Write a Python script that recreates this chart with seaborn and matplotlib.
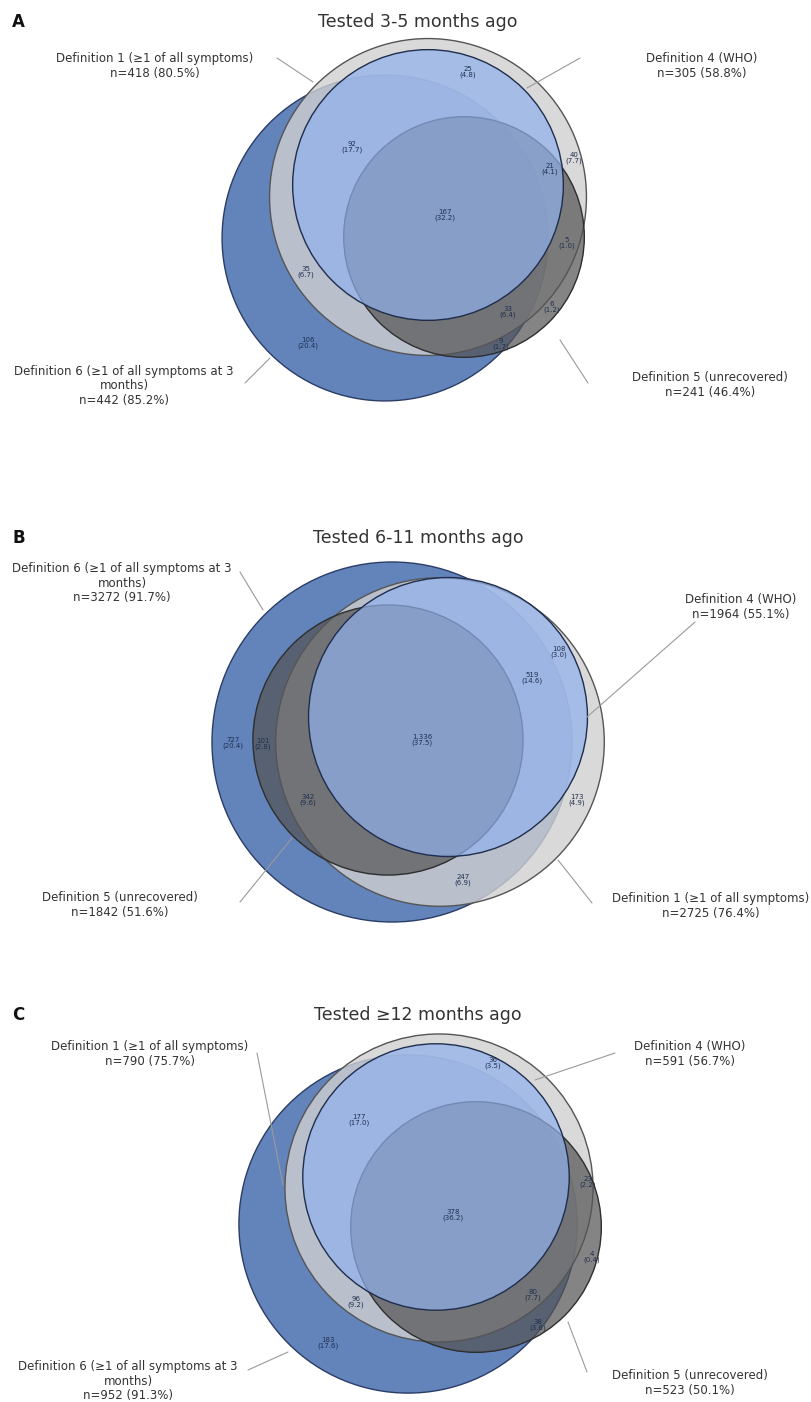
import matplotlib
matplotlib.use("Agg")
import matplotlib.pyplot as plt
import matplotlib.colors as mcolors
from matplotlib.patches import Circle
import seaborn as sns

# ---- data -------------------------------------------------------------
panel_letters = ["A", "B", "C"]
panel_titles = ["Tested 3-5 months ago", "Tested 6-11 months ago", "Tested \u226512 months ago"]
definitions = ["Definition 1 (\u22651 of all symptoms)", "Definition 4 (WHO)",
               "Definition 5 (unrecovered)", "Definition 6 (\u22651 of all symptoms at 3\nmonths)"]

n_a = [418, 305, 241, 442]
pct_a = [80.5, 58.8, 46.4, 85.2]
n_b = [2725, 1964, 1842, 3272]
pct_b = [76.4, 55.1, 51.6, 91.7]
n_c = [790, 591, 523, 952]
pct_c = [75.7, 56.7, 50.1, 91.3]

region_n_a = [25, 92, 40, 21, 167, 5, 35, 33, 6, 106, 9]
region_pct_a = [4.8, 17.7, 7.7, 4.1, 32.2, 1.0, 6.7, 6.4, 1.2, 20.4, 1.7]
region_n_b = [108, 519, 727, 101, 1336, 342, 173, 247]
region_pct_b = [3.0, 14.6, 20.4, 2.8, 37.5, 9.6, 4.9, 6.9]
region_n_c = [36, 177, 23, 378, 4, 96, 80, 38, 183]
region_pct_c = [3.5, 17.0, 2.2, 36.2, 0.4, 9.2, 7.7, 3.6, 17.6]

# ---- layout (pixel space of the figure) -------------------------------
# circle centres per definition (Def1, Def4, Def5, Def6), px per sqrt(n)
layout = [
    dict(centres=[(428, 197), (428, 185), (464, 237), (385, 238)], scale=7.75,
         title_y=22,
         labels=[(155, 66), (702, 66), (710, 385), (124, 386)],
         leaders=[((277, 58), (313, 82)), ((580, 58), (527, 88)),
                  ((560, 340), (588, 383)), ((245, 383), (270, 358))],
         regions=[(468, 72), (352, 147), (574, 158), (550, 169), (445, 215), (567, 243),
                  (306, 272), (508, 312), (552, 307), (308, 343), (501, 344)]),
    dict(centres=[(440, 742), (448, 717), (388, 740), (392, 742)], scale=3.147,
         title_y=538,
         labels=[(711, 906), (741, 607), (120, 905), (122, 583)],
         leaders=[((558, 860), (592, 903)), ((695, 622), (587, 717)),
                  ((292, 838), (240, 902)), ((240, 572), (263, 610))],
         regions=[(559, 652), (532, 678), (233, 743), (263, 744), (422, 740),
                  (308, 800), (577, 800), (463, 880)]),
    dict(centres=[(439, 1188), (436, 1177), (476, 1227), (408, 1224)], scale=5.48,
         title_y=1015,
         labels=[(150, 1054), (690, 1054), (690, 1383), (128, 1381)],
         leaders=[((257, 1053), (283, 1185)), ((615, 1053), (535, 1080)),
                  ((568, 1322), (587, 1372)), ((248, 1370), (288, 1352))],
         regions=[(493, 1063), (359, 1120), (588, 1182), (453, 1215), (592, 1257),
                  (356, 1302), (533, 1295), (538, 1325), (328, 1343)]),
]

# style per definition: face colour, face alpha, edge colour
styles = [("#d0d0d0", 0.8, "#555555"),
          ("#90b1ec", 0.7, "#1f2d4d"),
          ("#555555", 0.72, "#2e2e2e"),
          ("#6383bb", 1.0, "#2a3d66")]
draw_order = [3, 0, 2, 1]

sns.set_theme(style="white")
plt.rcParams["font.family"] = ["DejaVu Sans"]

fig = plt.figure(figsize=(8.11, 14.02), dpi=100)
ax = fig.add_axes([0, 0, 1, 1])
ax.set_xlim(0, 811)
ax.set_ylim(1402, 0)
ax.set_aspect("equal")
ax.axis("off")

ns = [n_a, n_b, n_c]
pcts = [pct_a, pct_b, pct_c]
reg_ns = [region_n_a, region_n_b, region_n_c]
reg_pcts = [region_pct_a, region_pct_b, region_pct_c]

for p in range(3):
    lay = layout[p]
    ax.text(12, lay["title_y"], panel_letters[p], fontsize=12, fontweight="bold",
            ha="left", va="center", color="#111111")
    ax.text(418, lay["title_y"], panel_titles[p], fontsize=12.5, ha="center",
            va="center", color="#333333")

    for i in draw_order:
        col, alpha, edge = styles[i]
        r = lay["scale"] * ns[p][i] ** 0.5
        ax.add_patch(Circle(lay["centres"][i], r, facecolor=mcolors.to_rgba(col, alpha),
                            edgecolor=edge, linewidth=1.0))

    for i in range(4):
        (x1, y1), (x2, y2) = lay["leaders"][i]
        ax.plot([x1, x2], [y1, y2], color="#9a9a9a", lw=0.8)
        x, y = lay["labels"][i]
        ax.text(x, y, f"{definitions[i]}\nn={ns[p][i]} ({pcts[p][i]:.1f}%)",
                fontsize=8.5, ha="center", va="center", color="#333333",
                linespacing=1.15)

    for (x, y), v, pc in zip(lay["regions"], reg_ns[p], reg_pcts[p]):
        ax.text(x, y, f"{v:,}\n({pc:.1f})", fontsize=5, ha="center", va="center",
                color="#1f2f4f", linespacing=1.0)

fig.savefig("out.png", dpi=100)
